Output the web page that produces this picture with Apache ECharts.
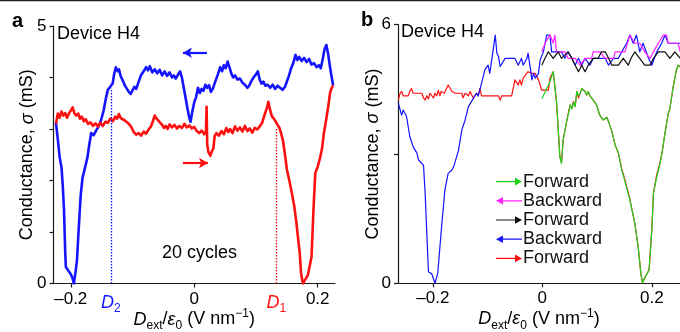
<!DOCTYPE html>
<html>
<head>
<meta charset="utf-8">
<script src="https://cdn.jsdelivr.net/npm/echarts@6/dist/echarts.min.js"></script>
<style>
  html, body { margin: 0; padding: 0; background: #fff; }
  #chart { width: 680px; height: 332px; }
</style>
</head>
<body>
<div id="chart"></div>
<script>
// ---------- Panel a: 20 overlaid sweeps, device H4 ----------
// [D_ext/eps0 (V/nm), conductance (mS)]
const sweepBackwardA = [
  [-0.224,3.12],[-0.221,2.80],[-0.218,2.45],[-0.215,2.25],[-0.213,1.90],[-0.211,1.43],[-0.209,0.60],[-0.208,0.32],
  [-0.204,0.25],[-0.200,0.18],[-0.197,0.10],[-0.195,0.00],[-0.192,0.25],[-0.190,0.45],[-0.187,1.10],[-0.184,1.70],
  [-0.181,2.05],[-0.177,2.25],[-0.173,2.45],[-0.170,2.70],[-0.167,2.92],[-0.163,2.88],[-0.159,2.97],[-0.155,3.05],
  [-0.151,3.17],[-0.147,3.35],[-0.143,3.60],[-0.140,3.76],[-0.136,3.82],[-0.132,3.89],[-0.130,4.05],[-0.127,4.20],
  [-0.124,4.12],[-0.122,4.16],[-0.119,4.02],[-0.116,3.95],[-0.113,3.86],[-0.110,3.80],[-0.106,3.72],[-0.103,3.68],
  [-0.100,3.75],[-0.097,3.82],[-0.094,3.78],[-0.090,3.92],[-0.086,4.05],[-0.082,4.12],[-0.078,4.20],[-0.075,4.14],
  [-0.072,4.22],[-0.068,4.10],[-0.064,4.16],[-0.060,4.08],[-0.056,4.15],[-0.052,4.04],[-0.048,4.12],[-0.044,4.03],
  [-0.040,4.10],[-0.036,4.00],[-0.033,4.04],[-0.030,3.98],[-0.026,4.06],[-0.023,4.12],[-0.020,4.00],[-0.017,3.80],
  [-0.014,3.60],[-0.011,3.40],[-0.008,3.22],[-0.006,3.14],[-0.003,3.35],[0.000,3.52],[0.003,3.62],[0.006,3.80],
  [0.009,3.70],[0.012,3.78],[0.015,3.74],[0.018,3.86],[0.021,3.80],[0.024,3.85],[0.027,3.72],[0.030,3.78],
  [0.034,3.92],[0.038,4.05],[0.042,4.20],[0.045,4.12],[0.048,4.24],[0.051,4.18],[0.054,4.31],[0.057,4.20],
  [0.060,4.08],[0.063,4.00],[0.066,4.04],[0.070,3.96],[0.074,3.98],[0.078,3.90],[0.082,3.86],[0.086,3.80],
  [0.089,3.84],[0.092,3.92],[0.096,4.00],[0.100,4.06],[0.103,4.12],[0.106,3.96],[0.109,3.88],[0.112,3.92],
  [0.115,3.84],[0.119,3.86],[0.123,3.80],[0.127,3.86],[0.131,3.78],[0.135,3.84],[0.139,3.80],[0.143,3.76],
  [0.147,3.82],[0.150,3.92],[0.153,4.02],[0.157,4.18],[0.161,4.30],[0.164,4.44],[0.167,4.34],[0.170,4.40],
  [0.174,4.32],[0.178,4.38],[0.182,4.30],[0.186,4.36],[0.190,4.25],[0.194,4.28],[0.198,4.20],[0.202,4.24],
  [0.205,4.18],[0.208,4.35],[0.211,4.55],[0.214,4.63],[0.217,4.45],[0.220,4.20],[0.222,4.05],[0.225,3.85]
];
const sweepForwardA = [
  [-0.224,3.10],[-0.221,3.30],[-0.218,3.22],[-0.215,3.34],[-0.212,3.26],[-0.209,3.31],[-0.206,3.22],[-0.203,3.30],
  [-0.200,3.27],[-0.197,3.42],[-0.194,3.30],[-0.191,3.26],[-0.188,3.30],[-0.185,3.20],[-0.182,3.24],[-0.179,3.15],
  [-0.176,3.19],[-0.172,3.10],[-0.168,3.13],[-0.164,3.06],[-0.160,3.11],[-0.156,3.05],[-0.152,3.12],[-0.148,3.06],
  [-0.144,3.14],[-0.140,3.12],[-0.136,3.20],[-0.132,3.15],[-0.128,3.24],[-0.125,3.20],[-0.122,3.29],[-0.119,3.21],
  [-0.116,3.24],[-0.113,3.17],[-0.110,3.19],[-0.106,3.10],[-0.102,3.04],[-0.098,2.94],[-0.094,2.89],[-0.090,2.92],
  [-0.086,2.87],[-0.082,2.95],[-0.078,2.91],[-0.074,2.99],[-0.070,3.05],[-0.067,3.15],[-0.064,3.26],[-0.061,3.20],
  [-0.058,3.22],[-0.055,3.12],[-0.052,3.08],[-0.049,3.02],[-0.046,3.06],[-0.043,3.00],[-0.040,3.09],[-0.036,3.03],
  [-0.032,3.08],[-0.028,3.01],[-0.024,3.06],[-0.020,3.02],[-0.016,3.10],[-0.012,3.03],[-0.008,3.07],[-0.004,3.01],
  [0.000,3.04],[0.004,2.96],[0.008,2.92],[0.012,2.97],[0.016,2.90],[0.019,2.96],[0.020,3.43],[0.021,2.70],
  [0.023,2.55],[0.026,2.48],[0.029,2.58],[0.031,2.62],[0.033,2.86],[0.036,2.92],[0.040,2.87],[0.044,2.96],
  [0.048,2.90],[0.052,3.02],[0.055,2.94],[0.058,3.00],[0.062,2.92],[0.066,3.05],[0.070,2.97],[0.074,3.03],
  [0.078,2.95],[0.082,3.06],[0.086,2.96],[0.090,3.01],[0.094,2.93],[0.098,3.02],[0.102,2.99],[0.106,3.05],
  [0.110,3.12],[0.114,3.28],[0.118,3.42],[0.120,3.53],[0.123,3.36],[0.126,3.24],[0.129,3.20],[0.132,3.14],
  [0.135,3.08],[0.138,3.02],[0.141,2.90],[0.144,2.76],[0.147,2.50],[0.150,2.22],[0.154,2.00],[0.158,1.76],
  [0.162,1.50],[0.165,1.23],[0.168,0.90],[0.171,0.58],[0.173,0.20],[0.176,0.00],[0.180,0.08],[0.184,0.16],
  [0.188,0.40],[0.190,0.52],[0.193,1.40],[0.196,2.14],[0.200,2.27],[0.204,2.45],[0.207,2.62],[0.210,2.92],
  [0.214,3.20],[0.217,3.43],[0.220,3.70],[0.222,3.78],[0.225,3.85]
];
// switching fields marked on panel a
const D2 = -0.135;
const D1 = 0.133;

// ---------- Panel b: single sweeps, device H4 ----------
const fwd1B = [ // green, first forward sweep
  [-0.001,4.28],[0.002,4.35],[0.008,4.52],[0.011,4.60],[0.014,4.68],[0.020,4.91],[0.026,4.20],[0.029,3.60],
  [0.032,2.94],[0.035,2.78],[0.038,3.32],[0.045,3.79],[0.048,3.95],[0.051,4.14],[0.054,4.05],[0.057,4.20],
  [0.060,4.10],[0.063,4.45],[0.066,4.35],[0.069,4.41],[0.072,4.52],[0.075,4.56],[0.078,4.45],[0.081,4.37],
  [0.084,4.45],[0.087,4.35],[0.093,4.25],[0.099,4.14],[0.105,3.90],[0.111,3.79],[0.118,3.85],[0.121,3.75],
  [0.127,3.52],[0.133,3.21],[0.139,3.02],[0.145,2.63],[0.151,2.36],[0.160,1.93],[0.169,1.39],[0.175,0.85],
  [0.180,0.23],[0.183,0.01],[0.188,0.15],[0.195,0.31],[0.200,1.24],[0.203,2.09],[0.209,2.47],[0.215,2.78],
  [0.219,3.05],[0.224,3.48],[0.230,3.94],[0.233,4.05],[0.239,4.56],[0.245,4.95],[0.248,5.06],[0.252,5.02]
];
const bwd1B = [ // magenta, first backward sweep
  [-0.001,5.37],[0.005,5.57],[0.014,5.76],[0.020,5.57],[0.023,5.76],[0.026,5.37],[0.041,5.37],[0.047,5.22],
  [0.060,5.22],[0.069,5.06],[0.078,5.22],[0.090,5.22],[0.093,5.37],[0.105,5.37],[0.115,5.22],[0.130,5.22],
  [0.133,5.37],[0.151,5.37],[0.160,5.76],[0.169,5.57],[0.178,5.57],[0.187,5.37],[0.197,5.22],[0.203,5.37],
  [0.212,5.57],[0.221,5.76],[0.227,5.76],[0.230,5.57],[0.248,5.57],[0.252,5.37]
];
const fwd2B = [ // black, second forward sweep
  [-0.001,5.06],[0.005,5.22],[0.011,5.37],[0.020,5.22],[0.029,5.37],[0.035,5.22],[0.047,5.37],[0.054,5.22],
  [0.060,5.06],[0.066,4.91],[0.072,5.06],[0.078,4.91],[0.084,5.06],[0.093,5.22],[0.102,5.22],[0.108,5.37],
  [0.115,5.37],[0.121,5.22],[0.127,5.06],[0.139,5.06],[0.148,5.22],[0.157,5.06],[0.162,5.22],[0.169,5.37],
  [0.178,5.22],[0.187,5.06],[0.197,5.06],[0.203,5.22],[0.212,5.37],[0.224,5.37],[0.233,5.22],[0.242,5.37],
  [0.252,5.22]
];
const bwd2B = [ // blue, second backward sweep
  [-0.263,4.18],[-0.257,3.90],[-0.254,4.02],[-0.248,3.87],[-0.242,3.40],[-0.236,3.17],[-0.229,3.02],[-0.226,2.86],
  [-0.223,2.82],[-0.217,2.74],[-0.214,2.09],[-0.211,1.16],[-0.208,0.27],[-0.202,0.22],[-0.196,0.00],[-0.191,0.23],
  [-0.184,1.31],[-0.178,2.16],[-0.172,2.55],[-0.165,2.63],[-0.161,2.74],[-0.158,2.70],[-0.153,3.09],[-0.147,3.56],
  [-0.141,3.79],[-0.135,4.10],[-0.132,4.14],[-0.126,4.29],[-0.120,4.41],[-0.117,4.35],[-0.111,4.64],[-0.105,4.95],
  [-0.099,5.06],[-0.096,4.87],[-0.092,5.22],[-0.086,5.76],[-0.083,5.34],[-0.080,5.26],[-0.077,5.03],[-0.074,5.06],
  [-0.068,5.22],[-0.050,5.22],[-0.044,5.06],[-0.038,5.22],[-0.035,5.06],[-0.028,5.22],[-0.026,5.34],[-0.022,5.00],
  [-0.019,4.72],[-0.016,4.87],[-0.013,4.76],[-0.007,4.87],[-0.004,5.18],[0.002,5.37],[0.008,5.76],[0.014,5.76],
  [0.017,5.37],[0.035,5.37],[0.041,5.22],[0.047,5.37],[0.054,5.22],[0.060,5.06],[0.066,5.22],[0.072,5.06],
  [0.078,5.22],[0.087,5.06],[0.093,5.22],[0.115,5.22],[0.121,5.06],[0.130,5.22],[0.139,5.22],[0.145,5.37],
  [0.154,5.57],[0.160,5.76],[0.166,5.57],[0.172,5.76],[0.178,5.37],[0.184,5.57],[0.194,5.22],[0.200,5.06],
  [0.209,5.37],[0.218,5.57],[0.224,5.76],[0.230,5.57],[0.248,5.57],[0.252,5.57]
];
const fwd3B = [ // red, third forward sweep
  [-0.263,4.25],[-0.260,4.40],[-0.257,4.45],[-0.254,4.35],[-0.245,4.35],[-0.242,4.45],[-0.239,4.52],[-0.236,4.41],
  [-0.229,4.41],[-0.226,4.45],[-0.220,4.41],[-0.217,4.30],[-0.214,4.25],[-0.211,4.35],[-0.208,4.28],[-0.205,4.41],
  [-0.199,4.30],[-0.196,4.41],[-0.193,4.35],[-0.190,4.48],[-0.187,4.35],[-0.185,4.45],[-0.179,4.41],[-0.172,4.60],
  [-0.165,4.45],[-0.159,4.41],[-0.147,4.41],[-0.145,4.30],[-0.141,4.41],[-0.135,4.35],[-0.132,4.45],[-0.126,4.30],
  [-0.120,4.41],[-0.117,4.35],[-0.114,4.52],[-0.111,4.35],[-0.080,4.35],[-0.077,4.25],[-0.074,4.35],[-0.056,4.35],
  [-0.050,4.72],[-0.044,4.60],[-0.041,4.72],[-0.038,4.60],[-0.035,4.76],[-0.032,4.72],[-0.026,4.91],[-0.019,4.87],
  [-0.013,4.87],[-0.007,4.72],[-0.004,4.60],[-0.001,4.48],[0.005,4.48],[0.011,4.48],[0.014,4.76],[0.020,4.91],
  [0.026,4.20],[0.029,3.60],[0.032,2.94],[0.035,2.80],[0.038,3.32],[0.045,3.79],[0.048,3.98],[0.051,4.14],
  [0.054,4.05],[0.057,4.22],[0.060,4.10],[0.063,4.45],[0.066,4.30],[0.069,4.41],[0.072,4.52],[0.075,4.56],
  [0.078,4.45],[0.081,4.37],[0.084,4.45],[0.087,4.35],[0.093,4.25],[0.099,4.14],[0.105,3.90],[0.111,3.79],
  [0.118,3.85],[0.121,3.75],[0.127,3.52],[0.133,3.21],[0.139,3.02],[0.145,2.66],[0.151,2.40],[0.160,1.95],
  [0.169,1.39],[0.175,0.85],[0.180,0.23],[0.183,0.01],[0.188,0.15],[0.195,0.31],[0.200,1.24],[0.203,2.09],
  [0.209,2.52],[0.215,2.80],[0.219,3.05],[0.224,3.48],[0.230,3.94],[0.233,4.05],[0.239,4.56],[0.245,4.95],
  [0.248,5.06],[0.252,5.02]
];

// axis ticks and labels
const xTicks = [-0.2, 0, 0.2];
const yTicksA = [0, 1, 2, 3, 4, 5];
const yLabelsA = [0, 5];
const yTicksB = [0, 3, 6];
const yLabelsB = [0, 6];
const legendNames = ['Forward', 'Backward', 'Forward', 'Backward', 'Forward'];

// ---------- styling ----------
const FONT = '"Liberation Sans", Arial, Helvetica, sans-serif';
const BLUE = '#1414ff';
const RED = '#ff1010';
const GREEN = '#1ed21e';
const MAGENTA = '#ff22ff';
const BLACK = '#111111';
const AXIS = '#1a1a1a';

const ARROW_RIGHT = 'path://M0,3.4L19,3.4L19,0.2L26,4L19,7.8L19,4.6L0,4.6Z';
const ARROW_LEFT = 'path://M26,3.4L7,3.4L7,0.2L0,4L7,7.8L7,4.6L26,4.6Z';

const xTitle = '{i|D}{s|ext}{n|/}{i|ε}{s|0}{n| (V nm}{p|−1}{n|)}';
const yTitle = '{n|Conductance, }{i|σ}{n| (mS)}';
const titleRich = {
  n: { fontSize: 18, fontFamily: FONT, color: '#000', lineHeight: 24, verticalAlign: 'middle' },
  i: { fontSize: 18, fontFamily: FONT, color: '#000', fontStyle: 'italic', lineHeight: 24, verticalAlign: 'middle' },
  s: { fontSize: 12, fontFamily: FONT, color: '#000', lineHeight: 12, verticalAlign: 'bottom' },
  p: { fontSize: 12, fontFamily: FONT, color: '#000', lineHeight: 12, verticalAlign: 'top' }
};

function tickText(v) {
  if (v === 0) return '0';
  return (v < 0 ? '–' : '') + Math.abs(v).toFixed(1);
}

function makeXAxis(grid, min, max, extraLabels) {
  return {
    gridIndex: grid, type: 'value', min: min, max: max,
    axisLine: { show: true, onZero: false, lineStyle: { color: AXIS, width: 1.2 } },
    axisTick: { show: true, length: 4, customValues: xTicks, lineStyle: { color: AXIS, width: 1.2 } },
    splitLine: { show: false },
    axisLabel: {
      customValues: xTicks.concat(extraLabels.map(e => e.v)).sort((a, b) => a - b),
      margin: 7, fontSize: 17, fontFamily: FONT, color: '#000',
      formatter: function (v) {
        const hit = extraLabels.find(e => e.v === v);
        return hit ? hit.text : tickText(v);
      },
      rich: {
        dB: { fontSize: 18, fontFamily: FONT, fontStyle: 'italic', color: BLUE, lineHeight: 24, verticalAlign: 'middle' },
        sB: { fontSize: 12, fontFamily: FONT, color: BLUE, lineHeight: 12, verticalAlign: 'bottom' },
        dR: { fontSize: 18, fontFamily: FONT, fontStyle: 'italic', color: RED, lineHeight: 24, verticalAlign: 'middle' },
        sR: { fontSize: 12, fontFamily: FONT, color: RED, lineHeight: 12, verticalAlign: 'bottom' }
      }
    },
    name: xTitle, nameLocation: 'middle', nameGap: 24, nameMoveOverlap: false,
    nameTextStyle: { fontSize: 18, fontFamily: FONT, color: '#000', rich: titleRich }
  };
}

function makeYAxis(grid, max, ticks, labels, gap) {
  return {
    gridIndex: grid, type: 'value', min: 0, max: max,
    axisLine: { show: true, onZero: false, lineStyle: { color: AXIS, width: 1.2 } },
    axisTick: { show: true, length: 4, customValues: ticks, lineStyle: { color: AXIS, width: 1.2 } },
    splitLine: { show: false },
    axisLabel: { customValues: labels, margin: 7, fontSize: 17, fontFamily: FONT, color: '#000' },
    name: yTitle, nameLocation: 'middle', nameGap: gap, nameRotate: 90, nameMoveOverlap: false,
    nameTextStyle: { fontSize: 18, fontFamily: FONT, color: '#000', rich: titleRich }
  };
}

function lineSeries(name, xi, data, color, width, extra) {
  return Object.assign({
    name: name, type: 'line', xAxisIndex: xi, yAxisIndex: xi, data: data,
    showSymbol: false, symbol: 'none', smooth: false, silent: true,
    lineStyle: { color: color, width: width, join: 'round' },
    itemStyle: { color: color }
  }, extra || {});
}

function guide(x, yTop, color) {
  return [
    { coord: [x, 0], symbol: 'none', lineStyle: { color: color, width: 1.3, type: [1.5, 1.5] } },
    { coord: [x, yTop], symbol: 'none' }
  ];
}
function sweepArrow(x0, x1, y, color) {
  return [
    { coord: [x0, y], symbol: 'none', lineStyle: { color: color, width: 2.2, type: 'solid' } },
    { coord: [x1, y], symbol: 'arrow', symbolSize: [8, 9] }
  ];
}
const markBase = { silent: true, animation: false, label: { show: false }, emphasis: { disabled: true } };

const legendIds = ['Forward #1', 'Backward #1', 'Forward #2', 'Backward #2', 'Forward #3'];

const option = {
  animation: false,
  backgroundColor: '#fff',
  textStyle: { fontFamily: FONT },
  grid: [
    { left: 53.5, top: 26, width: 281.5, height: 257.5, containLabel: false, outerBoundsMode: 'none' },
    { left: 398, top: 24.7, width: 282, height: 258.6, containLabel: false, outerBoundsMode: 'none' }
  ],
  xAxis: [
    makeXAxis(0, -0.228, 0.228, [
      { v: D2, text: '{dB|D}{sB|2}' },
      { v: D1, text: '{dR|D}{sR|1}' }
    ]),
    makeXAxis(1, -0.2636, 0.2515, [])
  ],
  yAxis: [
    makeYAxis(0, 5, yTicksA, yLabelsA, 14),
    makeYAxis(1, 6, yTicksB, yLabelsB, 13)
  ],
  legend: {
    orient: 'vertical', left: 496, top: 172,
    itemWidth: 26, itemHeight: 8, itemGap: 0,
    selectedMode: false, padding: 0,
    textStyle: { fontSize: 18, fontFamily: FONT, color: '#111', lineHeight: 19.2, padding: [0, 0, 0, -4] },
    formatter: function (name) { return legendNames[legendIds.indexOf(name)]; },
    data: [
      { name: legendIds[0], icon: ARROW_RIGHT },
      { name: legendIds[1], icon: ARROW_LEFT },
      { name: legendIds[2], icon: ARROW_RIGHT },
      { name: legendIds[3], icon: ARROW_LEFT },
      { name: legendIds[4], icon: ARROW_RIGHT }
    ]
  },
  series: [
    lineSeries('a backward', 0, sweepBackwardA, BLUE, 2.6, {
      markLine: Object.assign({}, markBase, {
        data: [guide(D2, 3.79, BLUE), sweepArrow(0.0206, -0.0183, 4.48, BLUE)]
      })
    }),
    lineSeries('a forward', 0, sweepForwardA, RED, 2.6, {
      markLine: Object.assign({}, markBase, {
        data: [guide(D1, 3.0, RED), sweepArrow(-0.0183, 0.0222, 2.34, RED)]
      })
    }),
    lineSeries(legendIds[4], 1, fwd3B, RED, 1.2),
    lineSeries(legendIds[3], 1, bwd2B, BLUE, 1.2),
    lineSeries(legendIds[1], 1, bwd1B, MAGENTA, 1.2),
    lineSeries(legendIds[2], 1, fwd2B, BLACK, 1.2),
    lineSeries(legendIds[0], 1, fwd1B, GREEN, 1.2)
  ],
  graphic: [
    { type: 'line', shape: { x1: 0, y1: 0.6, x2: 680, y2: 0.6 }, style: { stroke: '#222', lineWidth: 1.3 }, silent: true },
    { type: 'text', left: 12, top: 11, style: { text: 'a', font: 'bold 20px ' + FONT, fill: '#000' } },
    { type: 'text', left: 361, top: 10, style: { text: 'b', font: 'bold 20px ' + FONT, fill: '#000' } },
    { type: 'text', left: 57, top: 25, style: { text: 'Device H4', font: '18px ' + FONT, fill: '#000' } },
    { type: 'text', left: 401, top: 23, style: { text: 'Device H4', font: '18px ' + FONT, fill: '#000' } },
    { type: 'text', left: 162, top: 244, style: { text: '20 cycles', font: '18px ' + FONT, fill: '#000' } }
  ]
};

const chart = echarts.init(document.getElementById('chart'), null, { renderer: 'canvas' });
chart.setOption(option);
</script>
</body>
</html>
